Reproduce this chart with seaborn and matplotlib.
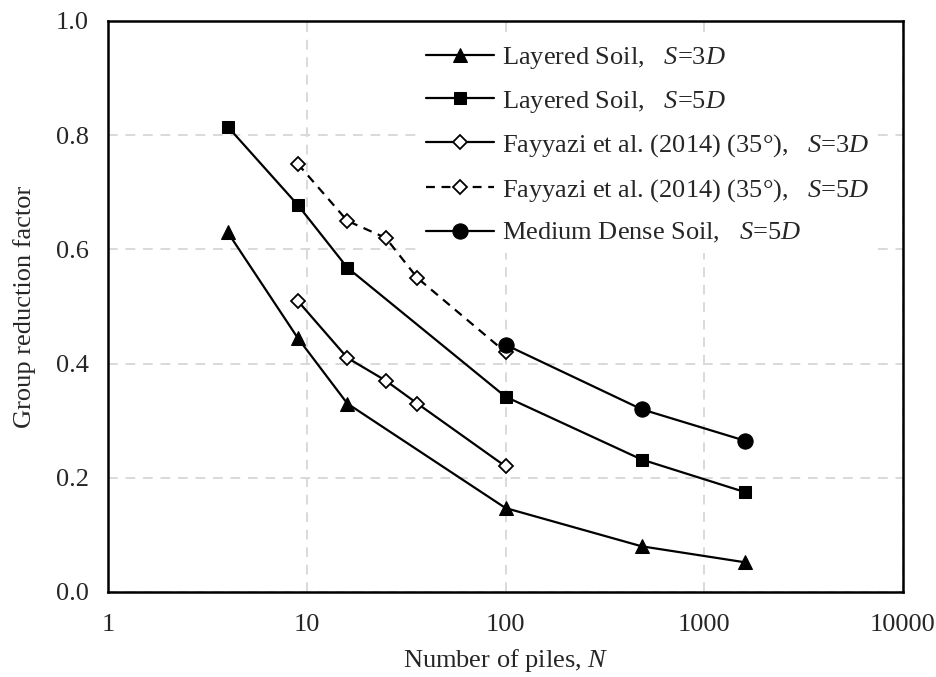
import numpy as np
import pandas as pd
import matplotlib
matplotlib.use('Agg')
import matplotlib.pyplot as plt
import seaborn as sns

# valores
n_layered = [4, 9, 16, 100, 484, 1600]
layered_3d = [0.63, 0.445, 0.33, 0.147, 0.08, 0.052]
layered_5d = [0.815, 0.678, 0.568, 0.342, 0.232, 0.175]

n_fayyazi = [9, 16, 25, 36, 100]
fayyazi_3d = [0.51, 0.41, 0.37, 0.33, 0.22]
fayyazi_5d = [0.75, 0.65, 0.62, 0.55, 0.42]

n_medium = [100, 484, 1600]
medium_5d = [0.433, 0.32, 0.265]

x_ticks = [1, 10, 100, 1000, 10000]
x_tick_labels = ['1', '10', '100', '1000', '10000']
y_ticks = [0.0, 0.2, 0.4, 0.6, 0.8, 1.0]

sns.set_style('white')
plt.rcParams['font.family'] = ['Liberation Serif', 'DejaVu Serif']
plt.rcParams['mathtext.fontset'] = 'custom'
plt.rcParams['mathtext.rm'] = 'Liberation Serif'
plt.rcParams['mathtext.it'] = 'Liberation Serif:italic'
plt.rcParams['font.size'] = 19

fig = plt.figure(figsize=(9.37, 6.77), dpi=100)
ax = fig.add_axes([0.1153, 0.1256, 0.8484, 0.8434])

lw = 1.6
sns.lineplot(x=n_layered, y=layered_3d, ax=ax, color='black', lw=lw, marker='^',
             markersize=10, markeredgecolor='black', label=r'Layered Soil,   $\mathit{S}$=3$\mathit{D}$')
sns.lineplot(x=n_layered, y=layered_5d, ax=ax, color='black', lw=lw, marker='s',
             markersize=8.5, markeredgecolor='black', label=r'Layered Soil,   $\mathit{S}$=5$\mathit{D}$')
sns.lineplot(x=n_fayyazi, y=fayyazi_3d, ax=ax, color='black', lw=lw, marker='D',
             markersize=7, markerfacecolor='white', markeredgecolor='black', markeredgewidth=1.3,
             label=r'Fayyazi et al. (2014) (35°),   $\mathit{S}$=3$\mathit{D}$')
sns.lineplot(x=n_fayyazi, y=fayyazi_5d, ax=ax, color='black', lw=lw, marker='D',
             markersize=7, markerfacecolor='white', markeredgecolor='black', markeredgewidth=1.3,
             linestyle=(0, (4, 3)),
             label=r'Fayyazi et al. (2014) (35°),   $\mathit{S}$=5$\mathit{D}$')
sns.lineplot(x=n_medium, y=medium_5d, ax=ax, color='black', lw=lw, marker='o',
             markersize=11, markeredgecolor='black', label=r'Medium Dense Soil,   $\mathit{S}$=5$\mathit{D}$')

ax.set_xscale('log')
ax.set_xlim(1, 10000)
ax.set_ylim(0, 1.0)
ax.set_xticks(x_ticks)
ax.set_xticklabels(x_tick_labels)
ax.minorticks_off()
ax.set_yticks(y_ticks)
ax.set_yticklabels([f'{v:.1f}' for v in y_ticks])
ax.tick_params(length=0, labelsize=19)
ax.tick_params(axis='y', pad=14)
ax.tick_params(axis='x', pad=16)
ax.grid(True, linestyle=(0, (5, 4)), color='#d9d9d9', linewidth=1.4)
for s in ax.spines.values():
    s.set_color('black')
    s.set_linewidth(1.8)

ax.set_xlabel(r'Number of piles, $\mathit{N}$', fontsize=19, labelpad=8)
ax.set_ylabel('Group reduction factor', fontsize=19, labelpad=14)

leg = ax.legend(loc='upper right', bbox_to_anchor=(0.985, 0.995), frameon=True, fancybox=False,
                handlelength=2.6, handletextpad=0.3, labelspacing=0.67, borderpad=0.3,
                fontsize=19)
leg.get_frame().set_edgecolor('none')
leg.get_frame().set_facecolor('white')
leg.get_frame().set_alpha(1)

plt.savefig('out.png', dpi=100)
